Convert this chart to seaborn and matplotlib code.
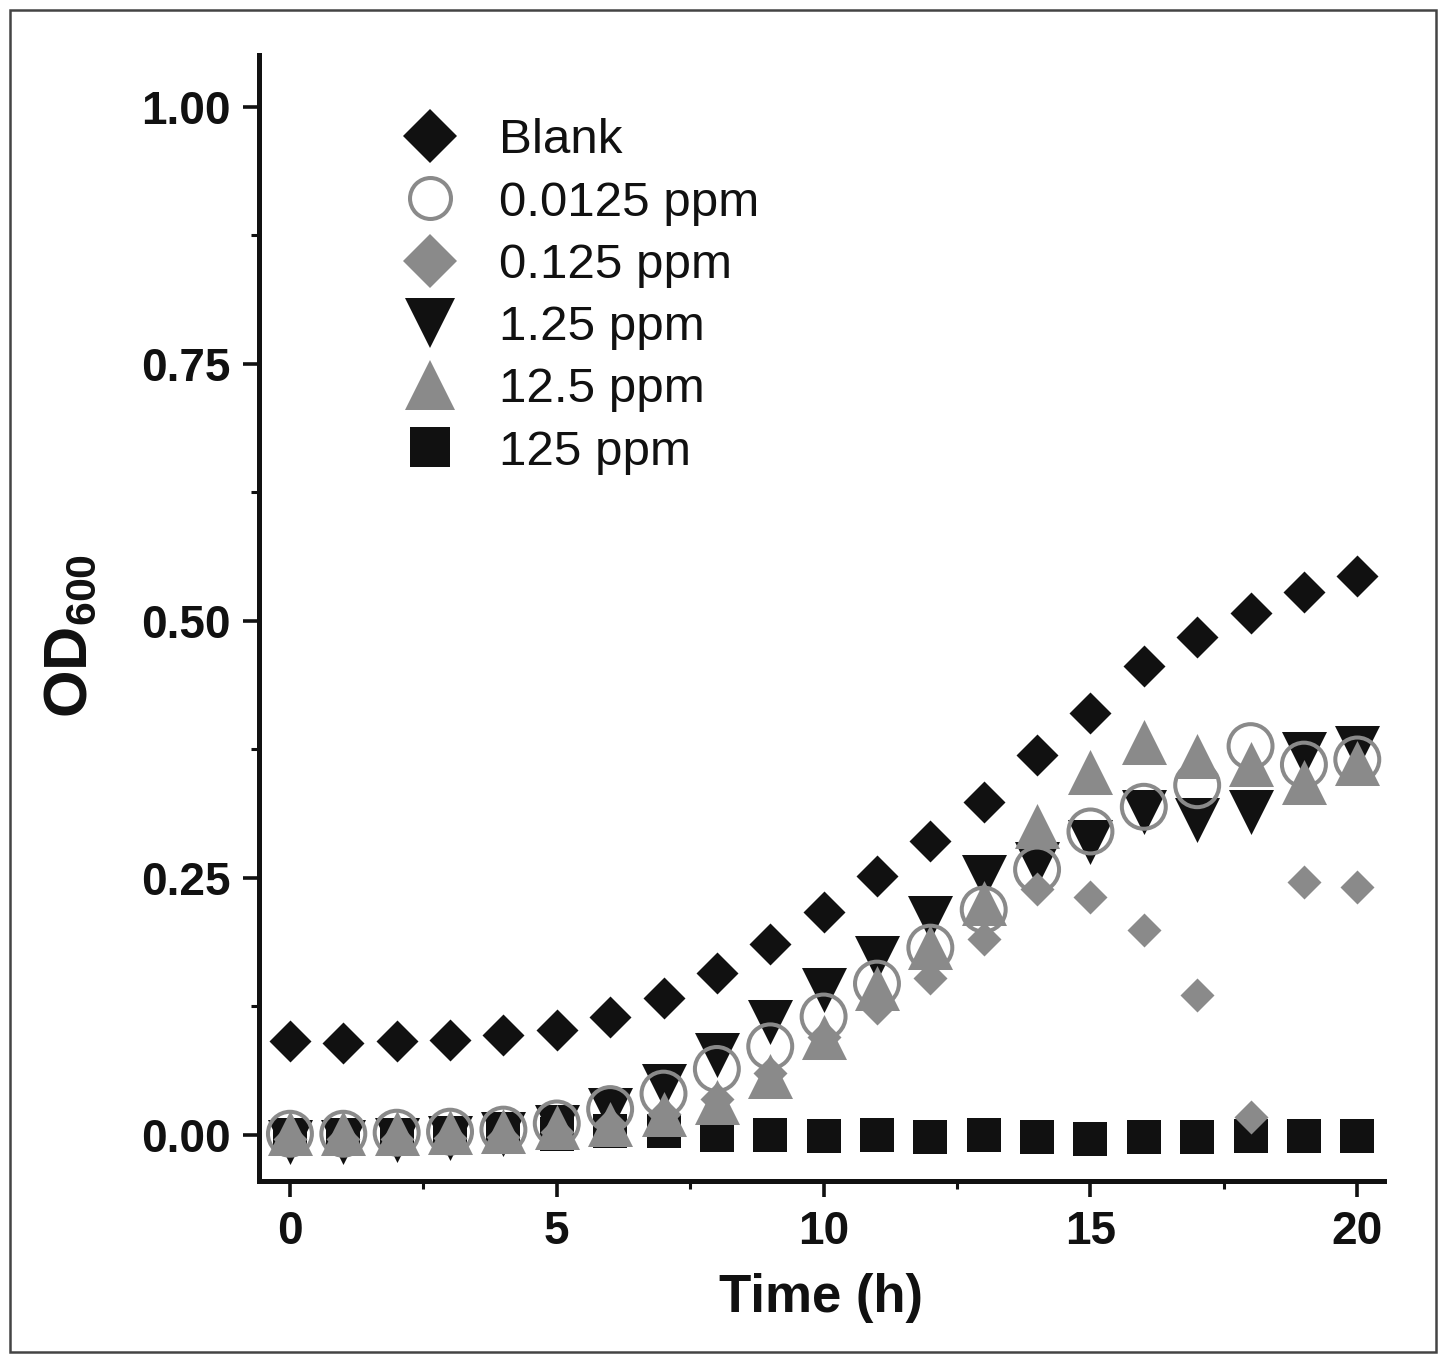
import numpy as np
import pandas as pd
import matplotlib
matplotlib.use("Agg")
import matplotlib.pyplot as plt
from matplotlib.lines import Line2D
from matplotlib.patches import Rectangle
from matplotlib.ticker import MultipleLocator, FormatStrFormatter
import seaborn as sns

# Dados (OD600 x tempo)
time_h = list(range(21))
blank = [0.091, 0.089, 0.091, 0.092, 0.097, 0.102, 0.115, 0.133, 0.157, 0.186, 0.217,
         0.252, 0.286, 0.324, 0.369, 0.410, 0.456, 0.484, 0.507, 0.528, 0.543]
ppm_0_0125 = [0.001, 0.001, 0.002, 0.003, 0.005, 0.011, 0.025, 0.040, 0.064, 0.086, 0.115,
              0.147, 0.182, 0.219, 0.258, 0.295, 0.319, 0.340, 0.378, 0.360, 0.365]
ppm_0_125 = [-0.004, -0.004, -0.004, -0.003, -0.002, 0.003, 0.010, 0.020, 0.035, 0.060, 0.095,
             0.123, 0.152, 0.190, 0.239, 0.231, 0.199, 0.136, 0.017, 0.246, 0.241]
ppm_1_25 = [-0.007, -0.007, -0.005, -0.003, 0.001, 0.008, 0.024, 0.047, 0.078, 0.110, 0.141,
            0.172, 0.211, 0.251, 0.263, 0.285, 0.314, 0.306, 0.314, 0.370, 0.376]
ppm_12_5 = [0.002, 0.002, 0.002, 0.003, 0.004, 0.008, 0.010, 0.020, 0.032, 0.057, 0.095,
            0.143, 0.183, 0.225, 0.300, 0.353, 0.382, 0.368, 0.361, 0.343, 0.362]
ppm_125 = [0.0, 0.0, 0.0, 0.0, 0.0, 0.001, 0.004, 0.004, 0.0, 0.0, -0.001,
           0.0, -0.002, 0.0, -0.002, -0.004, -0.002, -0.002, -0.001, -0.001, -0.001]

labels = ["Blank", "0.0125 ppm", "0.125 ppm", "1.25 ppm", "12.5 ppm", "125 ppm"]
black = "#111111"
gray = "#8a8a8a"

sns.set_style("ticks")
plt.rcParams["font.family"] = ["Liberation Sans", "DejaVu Sans"]
plt.rcParams["text.color"] = black
plt.rcParams["axes.labelcolor"] = black
plt.rcParams["xtick.color"] = black
plt.rcParams["ytick.color"] = black
plt.rcParams["mathtext.fontset"] = "custom"
plt.rcParams["mathtext.rm"] = "Liberation Sans"
plt.rcParams["mathtext.bf"] = "Liberation Sans:bold"

fig = plt.figure(figsize=(14.46, 13.63), dpi=100)
ax = fig.add_axes([0.1791, 0.1335, 0.778, 0.826])

# Moldura externa
fig.patches.append(Rectangle((0.0069, 0.0081), 0.986, 0.9846, transform=fig.transFigure,
                             fill=False, edgecolor="#444444", linewidth=1.8))

# Ordem de desenho: quadrados embaixo, diamantes cinza em cima
sns.scatterplot(x=time_h, y=ppm_125, marker="s", color=black, s=635, linewidth=0, ax=ax, zorder=2)
sns.scatterplot(x=time_h, y=blank, marker="D", color=black, s=457, linewidth=0, ax=ax, zorder=3)
sns.scatterplot(x=time_h, y=ppm_1_25, marker="v", color=black, s=1050, linewidth=0, ax=ax, zorder=4)
sns.scatterplot(x=time_h, y=ppm_0_0125, marker="o", color=gray, facecolor="none",
                edgecolor=gray, s=1000, linewidth=2.9, ax=ax, zorder=5)
sns.scatterplot(x=time_h, y=ppm_12_5, marker="^", color=gray, s=1050, linewidth=0, ax=ax, zorder=6)
sns.scatterplot(x=time_h, y=ppm_0_125, marker="D", color=gray, s=300, linewidth=0, ax=ax, zorder=7)

ax.set_xlim(-0.58, 20.5)
ax.set_ylim(-0.045, 1.05)
ax.xaxis.set_major_locator(MultipleLocator(5))
ax.xaxis.set_minor_locator(MultipleLocator(2.5))
ax.yaxis.set_major_locator(MultipleLocator(0.25))
ax.yaxis.set_minor_locator(MultipleLocator(0.125))
ax.yaxis.set_major_formatter(FormatStrFormatter("%.2f"))

for side in ["top", "right"]:
    ax.spines[side].set_visible(False)
for side in ["left", "bottom"]:
    ax.spines[side].set_linewidth(3.6)
    ax.spines[side].set_color(black)

ax.tick_params(which="major", direction="out", length=11.5, width=2.6, color=black,
               labelcolor=black, labelsize=33, pad=9)
ax.tick_params(which="minor", direction="out", length=6, width=2.2, color=black)
for lab in ax.get_xticklabels() + ax.get_yticklabels():
    lab.set_fontweight("bold")

ax.set_xlabel("Time (h)", fontsize=38, fontweight="bold", labelpad=14, color=black)
ax.set_ylabel(r"$\mathbf{OD}_{\mathbf{600}}$", fontsize=44, color=black)
ax.yaxis.set_label_coords(-0.141, 0.484)

# Legenda com marcadores maiores
handles = [
    Line2D([], [], linestyle="none", marker="D", markersize=27.5, color=black, markeredgewidth=0),
    Line2D([], [], linestyle="none", marker="o", markersize=29.5, markerfacecolor="none",
           markeredgecolor=gray, markeredgewidth=2.9),
    Line2D([], [], linestyle="none", marker="D", markersize=27.5, color=gray, markeredgewidth=0),
    Line2D([], [], linestyle="none", marker="v", markersize=36, color=black, markeredgewidth=0),
    Line2D([], [], linestyle="none", marker="^", markersize=36, color=gray, markeredgewidth=0),
    Line2D([], [], linestyle="none", marker="s", markersize=28.8, color=black, markeredgewidth=0),
]
leg = ax.legend(handles, labels, loc="upper left", bbox_to_anchor=(0.1257, 0.944), frameon=False,
                fontsize=35.5, handlelength=1.2, handletextpad=0.8, labelspacing=0.35,
                borderpad=0, borderaxespad=0)
for t in leg.get_texts():
    t.set_color(black)

fig.savefig("out.png", dpi=100)
